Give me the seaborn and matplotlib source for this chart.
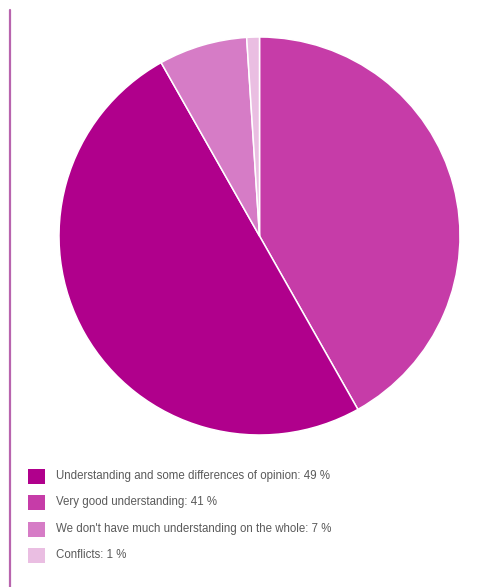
import matplotlib
matplotlib.use("Agg")
import matplotlib.pyplot as plt
from matplotlib.patches import Rectangle
from matplotlib.lines import Line2D
import seaborn as sns

# Survey answers, in legend order
categories = [
    "Understanding and some differences of opinion",
    "Very good understanding",
    "We don't have much understanding on the whole",
    "Conflicts",
]
shares = [49, 41, 7, 1]
colors = ["#B0008C", "#C63CA8", "#D67CC6", "#EABEE2"]

# Pie runs clockwise from 12 o'clock in this order
pie_order = [1, 0, 2, 3]

sns.set_theme(style="white")
plt.rcParams["font.family"] = ["Liberation Sans", "DejaVu Sans"]

W, H = 501, 587
fig = plt.figure(figsize=(W / 100, H / 100), dpi=100)
fig.patch.set_facecolor("white")

# Pie
ax = fig.add_axes([59 / W, (H - 435) / H, 401 / W, 398 / H])
ax.pie(
    [shares[i] for i in pie_order],
    colors=[colors[i] for i in pie_order],
    startangle=90,
    counterclock=False,
    radius=1.0,
    wedgeprops=dict(edgecolor="white", linewidth=1.1),
)
ax.set_xlim(-1.0, 1.0)
ax.set_ylim(-1.0, 1.0)
ax.set_aspect("auto")
ax.axis("off")

# Vertical rule on the left margin
fig.add_artist(Line2D([9.5 / W, 9.5 / W], [0, (H - 10) / H],
                      color="#B865AE", linewidth=1.6))

# Legend: swatches and labels
row_y = [476, 502, 529, 555]
for i, (cat, val) in enumerate(zip(categories, shares)):
    y = row_y[i]
    fig.add_artist(Rectangle((28 / W, (H - y - 7.5) / H), 17 / W, 15 / H,
                             facecolor=colors[i], edgecolor="none",
                             transform=fig.transFigure))
    fig.text(56 / W, (H - y) / H, f"{cat}: {val} %",
             fontsize=8.3, color="#5a5a5a", va="center", ha="left")

fig.savefig("out.png", dpi=100, facecolor="white")
